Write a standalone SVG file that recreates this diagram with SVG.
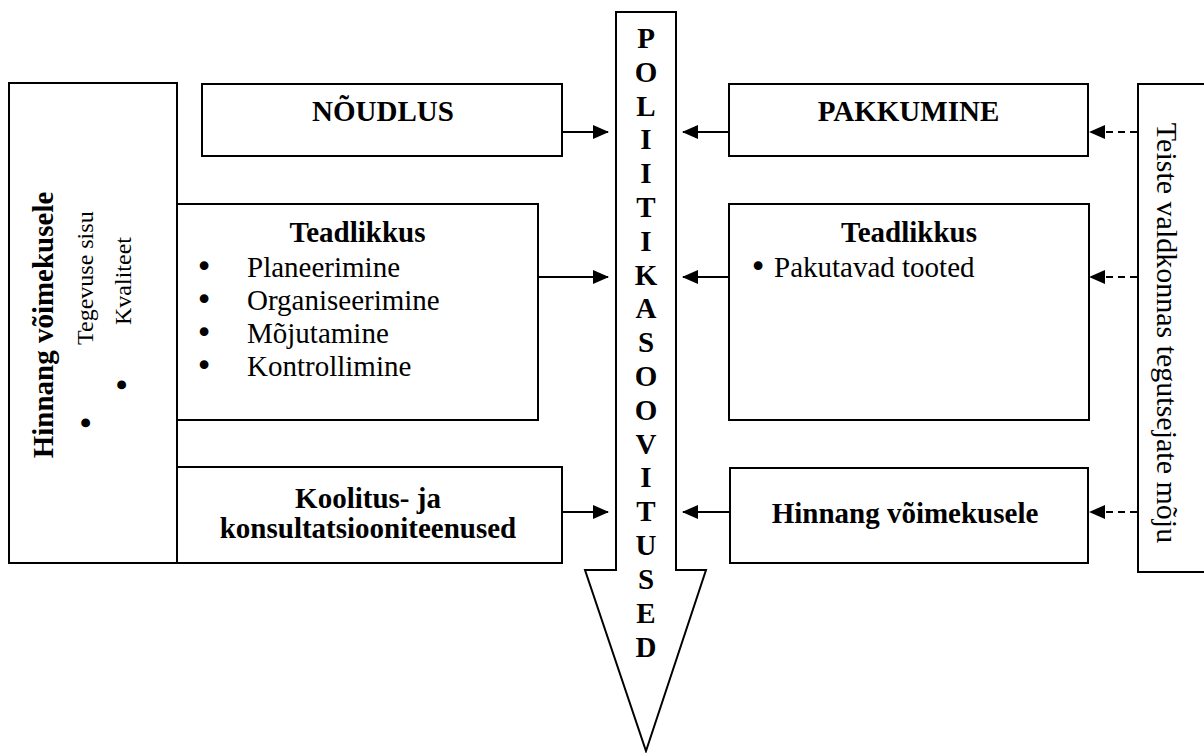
<svg xmlns="http://www.w3.org/2000/svg" width="1204" height="753" viewBox="0 0 1204 753">
  <style>
    .box { fill: #ffffff; stroke: #000000; stroke-width: 2; }
    .t { font-family: "Liberation Serif", "Times New Roman", serif; font-size: 29px; fill: #000000; }
    .b { font-weight: bold; }
    .s { font-size: 24px; }
    .bul { font-family: "DejaVu Sans", sans-serif; font-size: 30px; }
    .mid { text-anchor: middle; }
    .link { stroke: #000000; stroke-width: 2; fill: none; }
    .dash { stroke-dasharray: 7 5; }
  </style>
  <defs>
    <marker id="head" markerUnits="userSpaceOnUse" markerWidth="16" markerHeight="14" viewBox="0 0 16 14" refX="15" refY="7" orient="auto">
      <path d="M0,0 L16,7 L0,14 z" fill="#000000"/>
    </marker>
  </defs>

  <rect width="1204" height="753" fill="#ffffff"/>

  <!-- central policy arrow -->
  <g id="policy">
    <polygon class="box" points="616,12 676,12 676,570 706,570 646,751 585,570 616,570"/>
    <g class="t b mid">
      <text x="646" y="48">P</text>
      <text x="646" y="82">O</text>
      <text x="646" y="116">L</text>
      <text x="646" y="149">I</text>
      <text x="646" y="183">I</text>
      <text x="646" y="217">T</text>
      <text x="646" y="251">I</text>
      <text x="646" y="285">K</text>
      <text x="646" y="318">A</text>
      <text x="646" y="352">S</text>
      <text x="646" y="386">O</text>
      <text x="646" y="420">O</text>
      <text x="646" y="454">V</text>
      <text x="646" y="487">I</text>
      <text x="646" y="521">T</text>
      <text x="646" y="555">U</text>
      <text x="646" y="589">S</text>
      <text x="646" y="623">E</text>
      <text x="646" y="657">D</text>
    </g>
  </g>

  <!-- left side -->
  <g id="capability-left">
    <rect class="box" x="9" y="83" width="168" height="480"/>
    <text class="t b mid" transform="translate(53,325) rotate(-90)">Hinnang võimekusele</text>
    <text class="t bul mid" transform="translate(97,423) rotate(-90)">•</text>
    <text class="t s" transform="translate(93,345) rotate(-90)">Tegevuse sisu</text>
    <text class="t bul mid" transform="translate(133,385) rotate(-90)">•</text>
    <text class="t s" transform="translate(131,325) rotate(-90)">Kvaliteet</text>
  </g>

  <g id="demand">
    <rect class="box" x="202" y="84" width="360" height="72"/>
    <text class="t b mid" x="383" y="121">NÕUDLUS</text>
  </g>

  <g id="awareness-left">
    <rect class="box" x="177" y="204" width="361" height="216"/>
    <text class="t b mid" x="357.5" y="242">Teadlikkus</text>
    <text class="t bul mid" x="204" y="277">•</text>
    <text class="t" x="247" y="277">Planeerimine</text>
    <text class="t bul mid" x="204" y="310">•</text>
    <text class="t" x="247" y="310">Organiseerimine</text>
    <text class="t bul mid" x="204" y="343">•</text>
    <text class="t" x="247" y="343">Mõjutamine</text>
    <text class="t bul mid" x="204" y="376">•</text>
    <text class="t" x="247" y="376">Kontrollimine</text>
  </g>

  <g id="training">
    <rect class="box" x="177" y="467" width="385" height="96"/>
    <text class="t b mid" x="368" y="508">Koolitus- ja</text>
    <text class="t b mid" x="368" y="538">konsultatsiooniteenused</text>
  </g>

  <!-- right side -->
  <g id="supply">
    <rect class="box" x="729" y="84" width="359" height="72"/>
    <text class="t b mid" x="908.5" y="121">PAKKUMINE</text>
  </g>

  <g id="awareness-right">
    <rect class="box" x="729" y="204" width="360" height="216"/>
    <text class="t b mid" x="909" y="242">Teadlikkus</text>
    <text class="t bul mid" x="758" y="277">•</text>
    <text class="t" x="774" y="277">Pakutavad tooted</text>
  </g>

  <g id="capability-right">
    <rect class="box" x="730" y="468" width="358" height="95"/>
    <text class="t b mid" x="905" y="523">Hinnang võimekusele</text>
  </g>

  <g id="others">
    <rect class="box" x="1138" y="84" width="90" height="488"/>
    <text class="t mid" style="font-size:30px" transform="translate(1157,333) rotate(90)">Teiste valdkonnas tegutsejate mõju</text>
  </g>

  <!-- connectors -->
  <g id="connectors">
    <line class="link" x1="562" y1="132" x2="608" y2="132" marker-end="url(#head)"/>
    <line class="link" x1="538" y1="277" x2="608" y2="277" marker-end="url(#head)"/>
    <line class="link" x1="562" y1="512" x2="608" y2="512" marker-end="url(#head)"/>

    <line class="link" x1="729" y1="132" x2="683" y2="132" marker-end="url(#head)"/>
    <line class="link" x1="729" y1="277" x2="683" y2="277" marker-end="url(#head)"/>
    <line class="link" x1="730" y1="512" x2="683" y2="512" marker-end="url(#head)"/>

    <line class="link dash" x1="1137" y1="132" x2="1090" y2="132" marker-end="url(#head)"/>
    <line class="link dash" x1="1137" y1="277" x2="1090" y2="277" marker-end="url(#head)"/>
    <line class="link dash" x1="1137" y1="512" x2="1090" y2="512" marker-end="url(#head)"/>
  </g>
</svg>
